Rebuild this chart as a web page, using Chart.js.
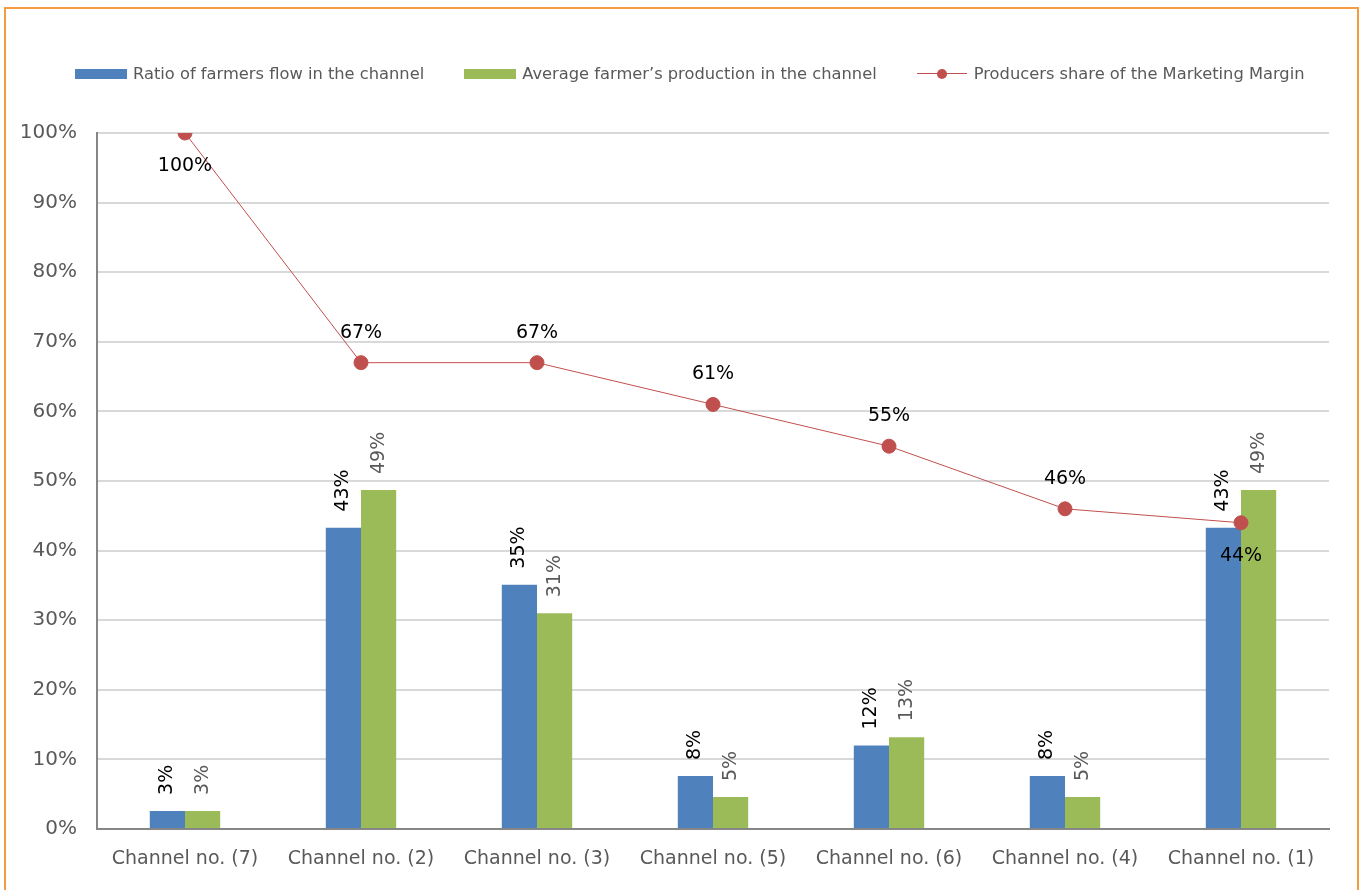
<!DOCTYPE html>
<html lang="en">
<head>
    <meta charset="UTF-8">
    <title>Marketing channels</title>
    <script src="https://cdn.jsdelivr.net/npm/chart.js"></script>
    <style>
        html, body {
            margin: 0;
            padding: 0;
            width: 1359px;
            height: 890px;
            overflow: hidden;
            background: #fff;
        }
        .frame {
            position: absolute;
            left: 4px;
            top: 7px;
            width: 1355px;
            height: 900px;
            border: 2px solid #F59B42;
            box-sizing: border-box;
        }
        #chart {
            position: absolute;
            left: 0;
            top: 0;
        }
        .legend {
            position: absolute;
            top: 64px;
            left: 75px;
            font-family: "DejaVu Sans", sans-serif;
            font-size: 16.3px;
            color: #595959;
            display: flex;
            align-items: center;
            white-space: nowrap;
        }
        .legend .item { display: flex; align-items: center; }
        .legend .box { width: 52px; height: 10px; margin-right: 6px; }
        .legend .ln { position: relative; width: 50px; height: 10px; margin-right: 7px; }
        .legend .ln::before {
            content: ""; position: absolute; left: 0; right: 0; top: 4.5px; height: 1px; background: #C0504D;
        }
        .legend .ln::after {
            content: ""; position: absolute; left: 20px; top: 0; width: 10px; height: 10px; border-radius: 50%; background: #C0504D;
        }
    </style>
</head>
<body>
    <div class="frame"></div>
    <canvas id="chart" width="1359" height="890"></canvas>
    <div class="legend">
        <div class="item"><span class="box" style="background:#4F81BD"></span><span>Ratio of farmers flow in the channel</span></div>
        <div class="item" style="margin-left:40px"><span class="box" style="background:#9BBB59"></span><span>Average farmer’s production in the channel</span></div>
        <div class="item" style="margin-left:40px"><span class="ln"></span><span>Producers share of the Marketing Margin</span></div>
    </div>

    <script>
        // values (percent)
        var channels = ['Channel no. (7)', 'Channel no. (2)', 'Channel no. (3)', 'Channel no. (5)', 'Channel no. (6)', 'Channel no. (4)', 'Channel no. (1)'];
        var farmersFlow = [2.6, 43.3, 35.1, 7.6, 12.0, 7.6, 43.3];
        var avgProduction = [2.6, 48.7, 31.0, 4.6, 13.2, 4.6, 48.7];
        var producersShare = [100, 67, 67, 61, 55, 46, 44];
        var shareLabelSide = ['below', 'above', 'above', 'above', 'above', 'above', 'below'];
        var yTicks = [0, 10, 20, 30, 40, 50, 60, 70, 80, 90, 100];

        var FONT = '"DejaVu Sans", sans-serif';

        var labelPlugin = {
            id: 'valueLabels',
            afterDatasetsDraw: function (chart) {
                var ctx = chart.ctx;
                ctx.save();
                ctx.font = '19px ' + FONT;
                chart.data.datasets.forEach(function (ds, di) {
                    var meta = chart.getDatasetMeta(di);
                    meta.data.forEach(function (el, i) {
                        var txt = Math.round(ds.data[i]) + '%';
                        if (ds.type === 'line') {
                            ctx.fillStyle = '#000';
                            ctx.textAlign = 'center';
                            ctx.textBaseline = 'middle';
                            var dy = shareLabelSide[i] === 'below' ? 33 : -30;
                            ctx.fillText(txt, el.x, el.y + dy);
                        } else {
                            ctx.save();
                            ctx.fillStyle = ds.label.indexOf('Ratio') === 0 ? '#000' : '#595959';
                            ctx.translate(el.x, el.y - 16);
                            ctx.rotate(-Math.PI / 2);
                            ctx.textAlign = 'left';
                            ctx.textBaseline = 'middle';
                            ctx.fillText(txt, 0, 0);
                            ctx.restore();
                        }
                    });
                });
                ctx.restore();
            }
        };

        var ctx = document.getElementById('chart').getContext('2d');
        var myChart = new Chart(ctx, {
            data: {
                labels: channels,
                datasets: [
                    {
                        type: 'line',
                        label: 'Producers share of the Marketing Margin',
                        data: producersShare,
                        borderColor: '#C0504D',
                        backgroundColor: '#C0504D',
                        borderWidth: 1,
                        pointRadius: 7,
                        pointHoverRadius: 7,
                        tension: 0,
                        order: 0
                    },
                    {
                        type: 'bar',
                        label: 'Ratio of farmers flow in the channel',
                        data: farmersFlow,
                        backgroundColor: '#4F81BD',
                        categoryPercentage: 0.4,
                        barPercentage: 1,
                        order: 1
                    },
                    {
                        type: 'bar',
                        label: 'Average farmer’s production in the channel',
                        data: avgProduction,
                        backgroundColor: '#9BBB59',
                        categoryPercentage: 0.4,
                        barPercentage: 1,
                        order: 1
                    }
                ]
            },
            options: {
                responsive: false,
                animation: false,
                layout: { padding: { top: 133, right: 30, left: 0, bottom: 0 } },
                plugins: {
                    legend: { display: false },
                    tooltip: { enabled: false }
                },
                scales: {
                    x: {
                        grid: { display: false, drawTicks: false },
                        border: { color: '#868686', width: 2 },
                        ticks: { color: '#595959', font: { family: FONT, size: 19 }, padding: 19, maxRotation: 0 },
                        afterFit: function (scale) { scale.height = 61; }
                    },
                    y: {
                        min: 0,
                        max: 100,
                        afterBuildTicks: function (scale) {
                            scale.ticks = yTicks.map(function (v) { return { value: v }; });
                        },
                        grid: { color: '#d9d9d9', lineWidth: 2, drawTicks: false },
                        border: { color: '#868686', width: 2 },
                        ticks: {
                            color: '#595959',
                            font: { family: FONT, size: 20 },
                            padding: 20,
                            callback: function (v) { return v + '%'; }
                        },
                        afterFit: function (scale) { scale.width = 97; }
                    }
                }
            },
            plugins: [labelPlugin]
        });
    </script>
</body>
</html>
